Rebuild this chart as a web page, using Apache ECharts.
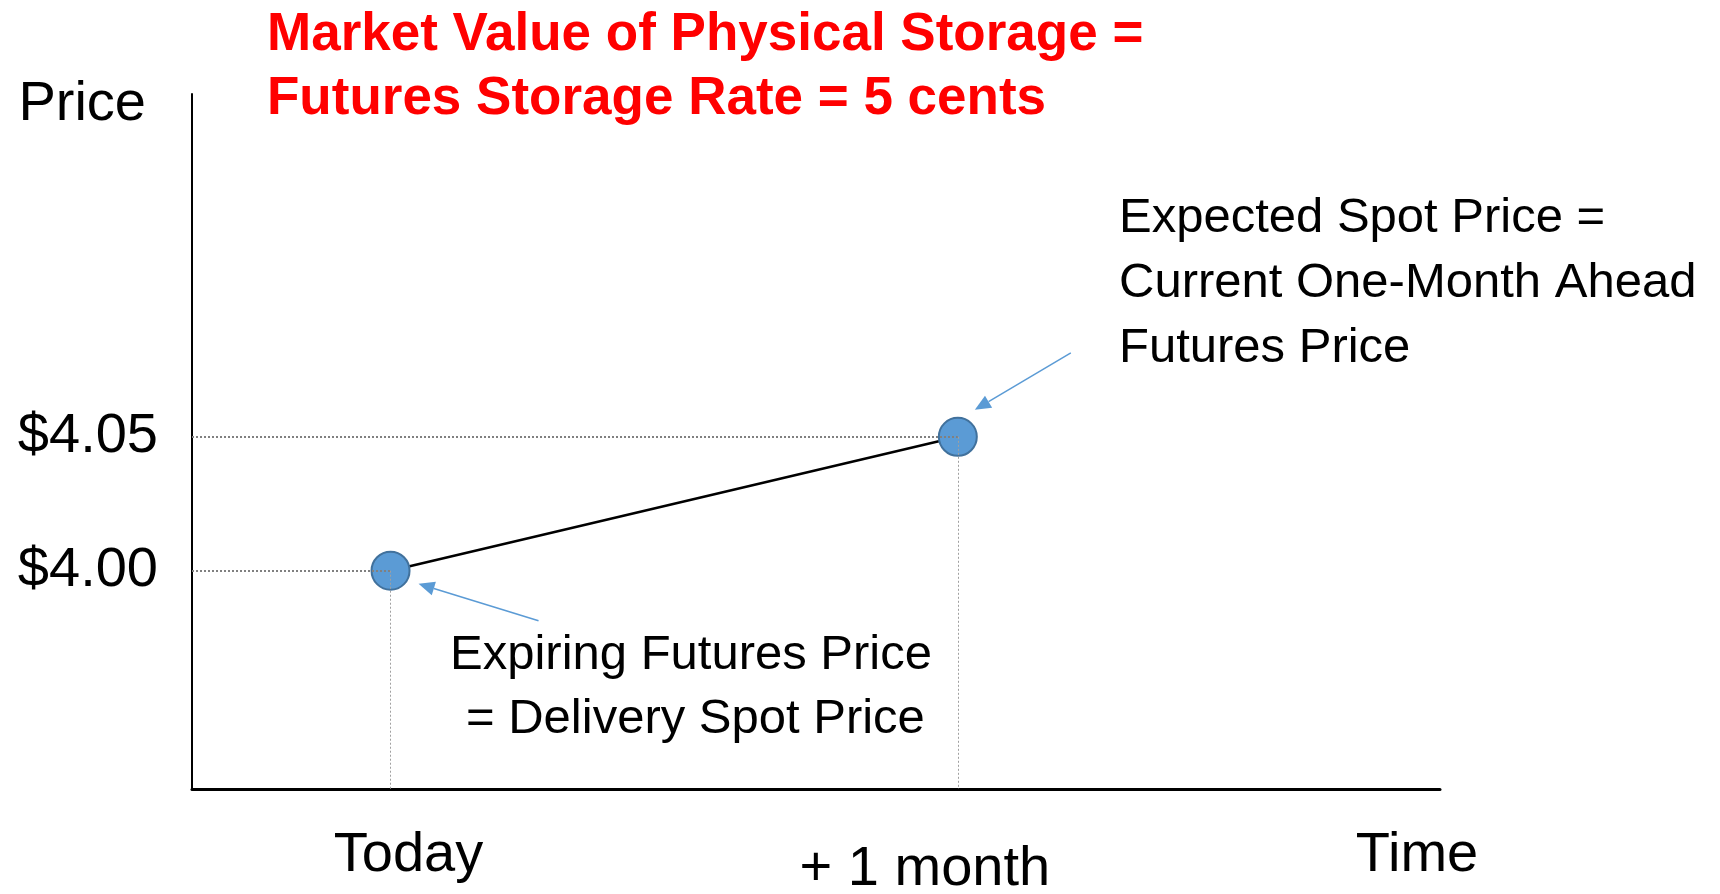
<!DOCTYPE html>
<html>
<head>
<meta charset="utf-8">
<script src="https://cdn.jsdelivr.net/npm/echarts@6/dist/echarts.min.js"></script>
<style>
  html, body { margin: 0; padding: 0; background: #fff; }
  #chart { width: 1720px; height: 894px; }
</style>
</head>
<body>
<div id="chart"></div>
<script>
// data
const timeValues = [0, 1];
const timeLabels = ['Today', '+ 1 month'];
const prices = [4.00, 4.05];
const priceLabels = ['$4.00', '$4.05'];

const FONT = 'Liberation Sans';
const xMin = -0.35, xMax = 1.85;
const yMin = 3.9185, yMax = 4.178;

const chart = echarts.init(document.getElementById('chart'));

const points = timeValues.map((t, i) => [t, prices[i]]);

const hDot = { color: '#808080', width: 2, type: [2, 2] };
const vDot = { color: '#a0a0a0', width: 1, type: [2, 2] };

const option = {
  animation: false,
  backgroundColor: '#fff',
  title: {
    text: 'Market Value of Physical Storage =\nFutures Storage Rate = 5 cents',
    left: 267,
    top: 3,
    padding: 0,
    textStyle: {
      color: '#ff0000',
      fontFamily: FONT,
      fontWeight: 'bold',
      fontSize: 53,
      lineHeight: 64
    }
  },
  grid: { left: 192, right: 280, top: 94, bottom: 105, outerBoundsMode: 'none', containLabel: false },
  xAxis: {
    type: 'value',
    min: xMin,
    max: xMax,
    name: 'Time',
    nameLocation: 'end',
    nameGap: -23,
    nameMoveOverlap: false,
    nameTextStyle: {
      fontFamily: FONT, fontSize: 56, color: '#000',
      align: 'center', verticalAlign: 'top',
      lineHeight: 134
    },
    axisLine: { onZero: false, lineStyle: { color: '#000', width: 3 } },
    axisTick: { show: false },
    splitLine: { show: false },
    axisLabel: {
      customValues: timeValues,
      margin: 39,
      formatter: function (v) {
        const i = timeValues.indexOf(v);
        return i === 0 ? '{a|' + timeLabels[0] + '}' : '{b|' + timeLabels[1] + '}';
      },
      rich: {
        a: { fontFamily: FONT, fontSize: 56, color: '#000', padding: [0, 0, 0, 36] },
        b: { fontFamily: FONT, fontSize: 56, color: '#000', padding: [14, 66, 0, 0] }
      }
    }
  },
  yAxis: {
    type: 'value',
    min: yMin,
    max: yMax,
    name: 'Price',
    nameLocation: 'end',
    nameGap: -11,
    nameMoveOverlap: false,
    nameTextStyle: {
      fontFamily: FONT, fontSize: 56, color: '#000',
      align: 'right', verticalAlign: 'middle',
      padding: [0, 46, 0, 0]
    },
    axisLine: { show: true, onZero: false, lineStyle: { color: '#000', width: 2 } },
    axisTick: { show: false },
    splitLine: { show: false },
    axisLabel: {
      customValues: prices,
      margin: 34,
      fontFamily: FONT,
      fontSize: 56,
      color: '#000',
      formatter: function (v) {
        return priceLabels[prices.indexOf(v)];
      }
    }
  },
  series: [
    {
      // dotted guide lines
      type: 'line',
      data: [],
      z: 1,
      markLine: {
        silent: true,
        symbol: 'none',
        label: { show: false },
        data: [
          [{ coord: [xMin, prices[0]], lineStyle: hDot }, { coord: [timeValues[0], prices[0]] }],
          [{ coord: [xMin, prices[1]], lineStyle: hDot }, { coord: [timeValues[1], prices[1]] }],
          [{ coord: [timeValues[0], prices[0]], lineStyle: vDot }, { coord: [timeValues[0], yMin] }],
          [{ coord: [timeValues[1], prices[1]], lineStyle: vDot }, { coord: [timeValues[1], yMin] }]
        ]
      }
    },
    {
      name: 'price',
      type: 'line',
      z: 3,
      data: points,
      symbol: 'circle',
      symbolSize: 38,
      lineStyle: { color: '#000', width: 2.5 },
      itemStyle: { color: '#5b9bd5', borderColor: '#41719c', borderWidth: 2 }
    }
  ]
};

chart.setOption(option);

// annotation arrows, placed relative to the points
function arrow(x1, y1, x2, y2) {
  const dx = x2 - x1, dy = y2 - y1;
  const len = Math.hypot(dx, dy);
  const ux = dx / len, uy = dy / len;
  const hl = 16, hw = 7;
  const bx = x2 - ux * hl, by = y2 - uy * hl;
  return [
    { type: 'line', silent: true, shape: { x1: x1, y1: y1, x2: bx, y2: by },
      style: { stroke: '#5b9bd5', lineWidth: 1.5 } },
    { type: 'polygon', silent: true,
      shape: { points: [[x2, y2], [bx - uy * hw, by + ux * hw], [bx + uy * hw, by - ux * hw]] },
      style: { fill: '#5b9bd5' } }
  ];
}

const p1 = chart.convertToPixel({ gridIndex: 0 }, points[0]);
const p2 = chart.convertToPixel({ gridIndex: 0 }, points[1]);

const textStyle = { fontFamily: FONT, fontSize: 49, fill: '#000', lineHeight: 65 };

chart.setOption({
  graphic: [
    ...arrow(p1[0] + 148, p1[1] + 50, p1[0] + 28, p1[1] + 13),
    ...arrow(p2[0] + 113, p2[1] - 84, p2[0] + 17, p2[1] - 27),
    { type: 'text', left: 1119, top: 186,
      style: Object.assign({ text: 'Expected Spot Price =\nCurrent One-Month Ahead\nFutures Price' }, textStyle) },
    { type: 'text', left: 450, top: 623,
      style: Object.assign({ text: 'Expiring Futures Price' }, textStyle) },
    { type: 'text', left: 466, top: 687,
      style: Object.assign({ text: '= Delivery Spot Price' }, textStyle) }
  ]
});
</script>
</body>
</html>
